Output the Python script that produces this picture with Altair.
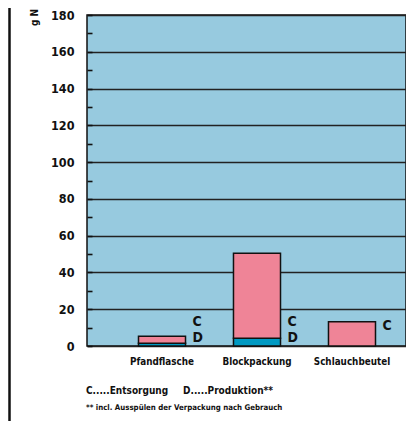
import altair as alt
import pandas as pd

categories = ["Pfandflasche", "Blockpackung", "Schlauchbeutel"]
produktion = [1.5, 4.2, 0.0]      # D
entsorgung = [3.8, 46.2, 13.2]    # C
y_ticks = list(range(0, 181, 10))

d_label_cats = ["Pfandflasche", "Blockpackung"]
c_label_cats_a = ["Pfandflasche", "Blockpackung"]
c_label_cats_b = ["Schlauchbeutel"]

legend_c = "C.....Entsorgung"
legend_d = "D.....Produktion**"
footnote = "** incl. Ausspülen der Verpackung nach Gebrauch"
unit_text = "g N"

FONT = "DejaVu Sans Condensed, Liberation Sans Narrow, sans-serif"
PINK = "#EF8497"
TEAL = "#0099C2"
BG = "#97CADF"

W, H = 319, 331
PT = 7

rows = []
for c, d, e in zip(categories, produktion, entsorgung):
    if d > 0:
        rows.append({"cat": c, "typ": "D", "val": d, "ord": 0})
    rows.append({"cat": c, "typ": "C", "val": e, "ord": 1})
df = pd.DataFrame(rows)

xscale = alt.Scale(domain=categories, paddingInner=0.505, paddingOuter=0.4316, align=0.628)
yscale = alt.Scale(domain=[0, 180], nice=False)

xaxis = alt.Axis(title=None, labelAngle=0, ticks=False, domain=False, labelPadding=10,
                 labelFont=FONT, labelFontSize=9.8, labelFontWeight="bold", labelColor="#111")
yaxis = alt.Axis(title=None, values=y_ticks, offset=-5, tickSize=5, tickColor="#111", tickWidth=1.6,
                 labelExpr="datum.value % 20 == 0 ? datum.label : ''", labelOverlap=False,
                 grid=True, gridColor="#222", gridWidth=1.3,
                 gridOpacity={"condition": {"test": "datum.value % 20 != 0", "value": 0}, "value": 1},
                 domain=False, labelPadding=13, labelFont=FONT, labelFontSize=12.5,
                 labelFontWeight="bold", labelColor="#111")

bars = alt.Chart(df).mark_bar(stroke="#111", strokeWidth=1.5).encode(
    x=alt.X("cat:N", scale=xscale, axis=xaxis, sort=categories),
    y=alt.Y("val:Q", scale=yscale, axis=yaxis, stack="zero"),
    color=alt.Color("typ:N", scale=alt.Scale(domain=["D", "C"], range=[TEAL, PINK]), legend=None),
    order=alt.Order("ord:Q"),
)

def letters(cats, letter, dy):
    return alt.Chart(pd.DataFrame({"cat": cats, "t": [letter] * len(cats)})).mark_text(
        align="left", baseline="bottom", dx=30.5, dy=dy, font=FONT, fontSize=14,
        fontWeight="bold", color="#111"
    ).encode(
        x=alt.X("cat:N", scale=xscale, sort=categories, axis=xaxis),
        y=alt.Y(datum=0, scale=yscale, axis=yaxis),
        text="t:N",
    )

d_text = letters(d_label_cats, "D", -1)
c_text_a = letters(c_label_cats_a, "C", -17)
c_text_b = letters(c_label_cats_b, "C", -13)

def note(txt, x, y, size, angle=0, align="left"):
    return alt.Chart(pd.DataFrame({"t": [txt]})).mark_text(
        align=align, baseline="middle", font=FONT, fontSize=size, fontWeight="bold",
        color="#111", angle=angle
    ).encode(x=alt.value(x), y=alt.value(y), text="t:N")

leg_c = note(legend_c, -1, H + 45, 10)
leg_d = note(legend_d, 96, H + 45, 10)
foot = note(footnote, -1, H + 62, 7.8)
unit = note(unit_text, -52, -6, 10, angle=270, align="right")

left_line = alt.Chart(pd.DataFrame({"a": [0]})).mark_rule(color="#111", strokeWidth=2.5).encode(
    x=alt.value(-77.5), y=alt.value(-PT), y2=alt.value(H + 75)
)

chart = alt.layer(bars, d_text, c_text_a, c_text_b, leg_c, leg_d, foot, unit, left_line).properties(
    width=W, height=H,
    padding={"left": 79, "top": PT, "right": 0, "bottom": 75},
    autosize=alt.AutoSizeParams(type="none"),
    background="white",
).configure_view(fill=BG, stroke="#111", strokeWidth=1.5)

chart.save("out.html", embed_options={"renderer": "svg", "actions": False})
